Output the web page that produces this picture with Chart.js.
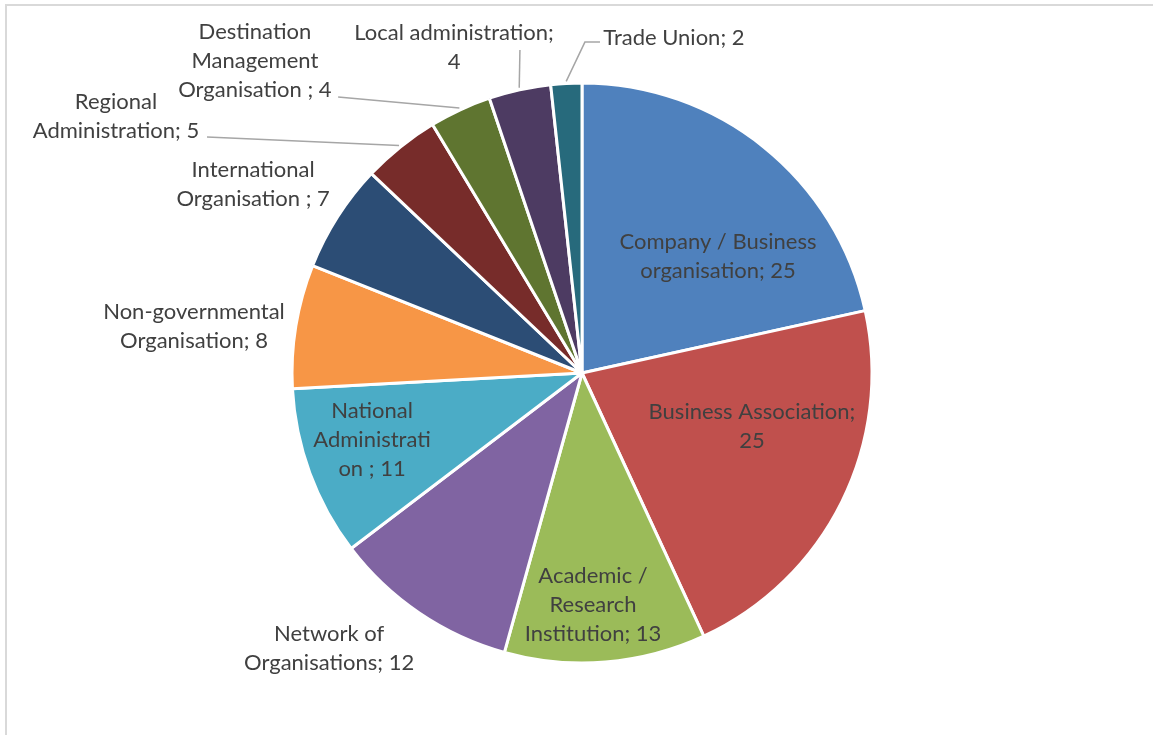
<!DOCTYPE html>
<html>
<head>
<meta charset="utf-8">
<script src="https://cdn.jsdelivr.net/npm/chart.js@4.4.1/dist/chart.umd.min.js"></script>
<style>
  html, body { margin: 0; padding: 0; background: #fff; }
  #wrap { position: relative; width: 1153px; height: 735px; overflow: hidden; }
  #frame { position: absolute; left: 5px; top: 4px; width: 1200px; height: 800px;
           border-top: 2px solid #d9d9d9; border-left: 2px solid #d9d9d9; }
  canvas { position: absolute; left: 0; top: 0; }
</style>
</head>
<body>
<div id="wrap">
  <div id="frame"></div>
  <canvas id="pie" width="1153" height="735"></canvas>
</div>
<script>
const categories = [
  "Company / Business organisation",
  "Business Association",
  "Academic / Research Institution",
  "Network of Organisations",
  "National Administration",
  "Non-governmental Organisation",
  "International Organisation",
  "Regional Administration",
  "Destination Management Organisation",
  "Local administration",
  "Trade Union"
];
const counts = [25, 25, 13, 12, 11, 8, 7, 5, 4, 4, 2];

// label text as shown on the chart (line breaks)
const labelLines = [
  ["Company / Business", "organisation; 25"],
  ["Business Association;", "25"],
  ["Academic /", "Research", "Institution; 13"],
  ["Network of", "Organisations; 12"],
  ["National", "Administrati", "on ; 11"],
  ["Non-governmental", "Organisation; 8"],
  ["International", "Organisation ; 7"],
  ["Regional", "Administration; 5"],
  ["Destination", "Management", "Organisation ; 4"],
  ["Local administration;", "4"],
  ["Trade Union; 2"]
];

const colors = ["#4F81BD", "#C0504D", "#9BBB59", "#8064A2", "#4BACC6", "#F79646",
                "#2C4D75", "#772C2A", "#5F7530", "#4D3B62", "#276A7C"];

// label placement relative to pie centre, in units of the radius
const labelPos = [
  [0.469, -0.403], [0.586, 0.183], [0.038, 0.800], [-0.872, 0.948], [-0.724, 0.231],
  [-1.338, -0.162], [-1.134, -0.650], [-1.607, -0.884], [-1.128, -1.076],
  [-0.441, -1.122], [0.317, -1.155]
];
// leader line start points (same units); the line ends on the slice edge
const leaderPts = {
  7: [[-1.293, -0.814]],
  8: [[-0.841, -0.952]],
  9: [[-0.214, -1.114]],
  10: [[0.062, -1.141], [0.010, -1.141]]
};

const labelPlugin = {
  id: "sliceLabels",
  afterDatasetsDraw(chart) {
    const ctx = chart.ctx;
    const arcs = chart.getDatasetMeta(0).data;
    ctx.save();
    arcs.forEach((arc, i) => {
      const { x, y, outerRadius, startAngle, endAngle } = arc.getProps(["x", "y", "outerRadius", "startAngle", "endAngle"], true);
      const R = outerRadius;
      if (leaderPts[i]) {
        const mid = (startAngle + endAngle) / 2;
        ctx.beginPath();
        ctx.strokeStyle = "#a6a6a6";
        ctx.lineWidth = 1.5;
        leaderPts[i].forEach((p, k) => {
          const px = x + p[0] * R, py = y + p[1] * R;
          if (k === 0) ctx.moveTo(px, py); else ctx.lineTo(px, py);
        });
        ctx.lineTo(x + Math.cos(mid) * (R + 2), y + Math.sin(mid) * (R + 2));
        ctx.stroke();
      }
      const lines = labelLines[i];
      const cx = x + labelPos[i][0] * R;
      const cy = y + labelPos[i][1] * R;
      const lh = 29;
      ctx.fillStyle = "#404040";
      ctx.font = "22px Lato";
      ctx.textAlign = "center";
      ctx.textBaseline = "middle";
      lines.forEach((t, k) => {
        ctx.fillText(t, cx, cy + (k - (lines.length - 1) / 2) * lh);
      });
    });
    ctx.restore();
  }
};

new Chart(document.getElementById("pie"), {
  type: "pie",
  data: {
    labels: categories,
    datasets: [{
      data: counts,
      backgroundColor: colors,
      borderColor: "#ffffff",
      borderWidth: 3
    }]
  },
  options: {
    responsive: false,
    animation: false,
    radius: 290,
    layout: { padding: { left: 11, top: 11, right: 0, bottom: 0 } },
    plugins: {
      legend: { display: false },
      tooltip: { enabled: false }
    }
  },
  plugins: [labelPlugin]
});
</script>
</body>
</html>
